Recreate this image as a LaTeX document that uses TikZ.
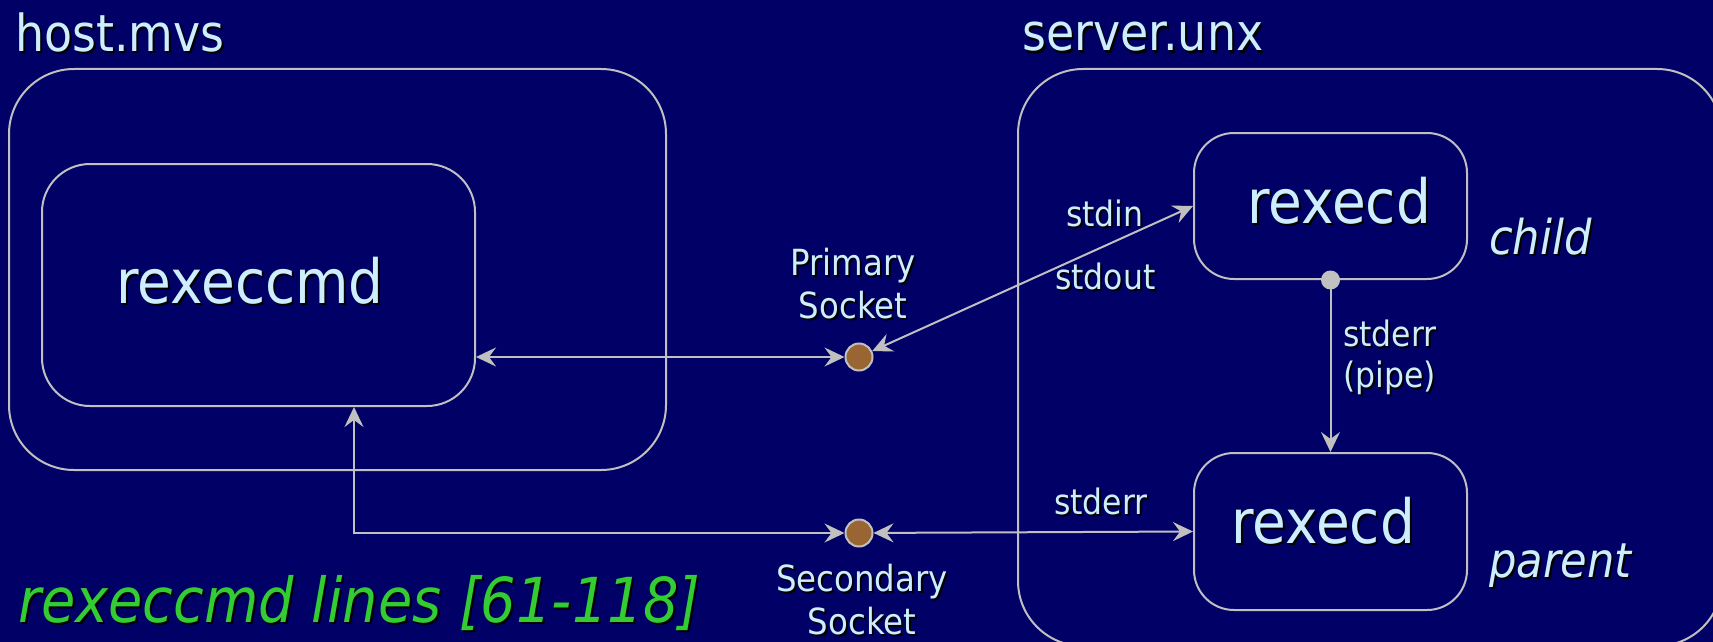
\documentclass[tikz,border=0pt]{standalone}
\usepackage{fontspec}
\setmainfont{DejaVu Sans}[FakeStretch=0.9]
\usetikzlibrary{arrows.meta}

\definecolor{bgnavy}{RGB}{0,0,102}
\definecolor{linegray}{RGB}{192,192,192}
\definecolor{paletext}{RGB}{204,238,255}
\definecolor{codegreen}{RGB}{51,204,51}
\definecolor{sockbrown}{RGB}{153,102,51}

% text with a dark drop shadow
\newcommand\shd[1]{\leavevmode\rlap{\kern2pt\raisebox{-2pt}{\color{black}#1}}#1}

\tikzset{
  frame/.style={draw=linegray, line width=2pt, inner sep=0pt},
  conn/.style={draw=linegray, line width=2pt,
    arrows={Stealth[length=20pt,width=19pt,inset=7pt]-Stealth[length=20pt,width=19pt,inset=7pt]}},
  oneway/.style={draw=linegray, line width=2pt,
    -{Stealth[length=20pt,width=19pt,inset=7pt]}},
  socket/.style={circle, draw=linegray, line width=2pt, fill=sockbrown,
    minimum size=27pt, inner sep=0pt},
  tapdot/.style={circle, fill=linegray, minimum size=19pt, inner sep=0pt},
  hosttitle/.style={text=paletext, inner sep=0pt, font=\fontsize{51pt}{60pt}\selectfont},
  proc/.style={text=paletext, inner sep=0pt, font=\fontsize{61pt}{70pt}\selectfont},
  role/.style={text=paletext, inner sep=0pt, font=\itshape\fontsize{48pt}{56pt}\selectfont},
  stream/.style={text=paletext, inner sep=0pt, align=left, font=\fontsize{35pt}{41pt}\selectfont},
  socklabel/.style={text=paletext, inner sep=0pt, align=center, font=\fontsize{36pt}{43pt}\selectfont},
  caption/.style={text=codegreen, inner sep=0pt, font=\itshape\fontsize{62pt}{70pt}\selectfont},
}

\begin{document}
\begin{tikzpicture}[x=1pt, y=-1pt]
  \fill[bgnavy] (0,0) rectangle (1713,642);
  \useasboundingbox (0,0) rectangle (1713,642);

  % machine frames
  \node[frame, rounded corners=65pt, minimum width=657pt, minimum height=401pt]
    (host) at (337.5,269.5) {};
  \node[frame, rounded corners=65pt, minimum width=704pt, minimum height=577pt]
    (server) at (1370,357.5) {};

  \node[hosttitle, anchor=base west] (hostname) at (15,52) {\shd{host.mvs}};
  \node[hosttitle, anchor=base west] (servername) at (1022,51) {\shd{server.unx}};

  % processes
  \node[frame, rounded corners=48pt, minimum width=433pt, minimum height=242pt]
    (cmd) at (258.5,285) {};
  \node[proc, anchor=base] (cmdtext) at (250,303) {\shd{rexeccmd}};

  \node[frame, rounded corners=40pt, minimum width=273pt, minimum height=146pt]
    (child) at (1330.5,206) {};
  \node[proc, anchor=base] (childtext) at (1339,223) {\shd{rexecd}};

  \node[frame, rounded corners=40pt, minimum width=273pt, minimum height=157pt]
    (parent) at (1330.5,531.5) {};
  \node[proc, anchor=base] (parenttext) at (1323,543) {\shd{rexecd}};

  \node[role, anchor=base west] (childrole) at (1489,254) {\shd{child}};
  \node[role, anchor=base west] (parentrole) at (1489,577) {\shd{parent}};

  % sockets (multi-line labels are placed by the baseline of their last line)
  \node[socket] (psock) at (859,357) {};
  \node[socket] (ssock) at (859,533) {};
  \node[socklabel, anchor=base] (plabel) at (853,318) {\shd{Primary}\\\shd{Socket}};
  \node[socklabel, anchor=base] (slabel) at (862,634) {\shd{Secondary}\\\shd{Socket}};

  % stream labels
  \node[stream, anchor=base west] (stdin) at (1066,226) {\shd{stdin}};
  \node[stream, anchor=base west] (stdout) at (1055,289) {\shd{stdout}};
  \node[stream, anchor=base west] (stderrlbl) at (1054,514) {\shd{stderr}};
  \node[stream, anchor=base west] (pipelbl) at (1343,387) {\shd{stderr}\\\shd{(pipe)}};

  % connections
  \draw[conn] (cmd.east |- psock) -- (psock);
  \draw[conn] (psock) -- (child.west);
  \coordinate (bend) at (354,533);
  \draw[conn] (cmd.south -| bend) -- (bend) -- (ssock);
  \draw[conn] (ssock) -- (parent.west);

  \node[tapdot] (tap) at (child.south) {};
  \draw[oneway] (tap.center) -- (parent.north);

  % caption
  \node[caption, anchor=base west] (srcref) at (18,622) {\shd{rexeccmd lines [61-118]}};
\end{tikzpicture}
\end{document}
